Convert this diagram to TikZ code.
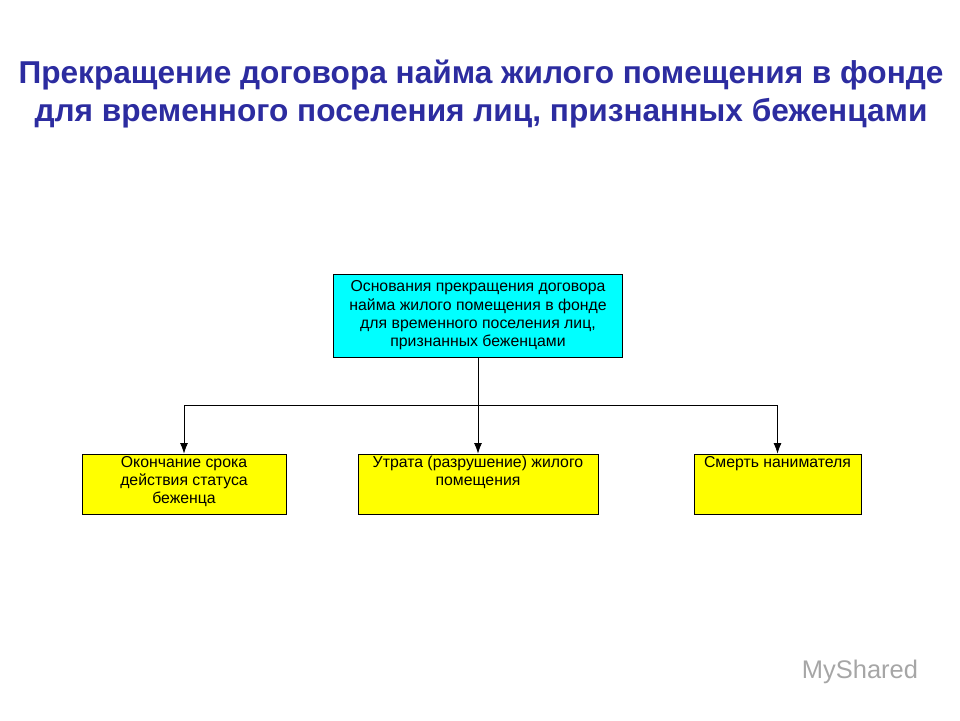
\documentclass[tikz,border=0pt]{standalone}
\usepackage{fontspec}
\setmainfont{Liberation Sans}
\usetikzlibrary{positioning,arrows.meta}
\definecolor{titleblue}{RGB}{44,44,160}
\definecolor{rootcyan}{RGB}{0,255,255}
\definecolor{leafyellow}{RGB}{255,255,0}
\begin{document}
\begin{tikzpicture}[
        x=0.02cm, y=-0.02cm,
        root/.style={rectangle, draw=black, fill=rootcyan, font=\fontsize{9}{10.4}\selectfont,
            minimum width=5.78cm, minimum height=1.66cm, align=center},
        leaf/.style={rectangle, draw=black, fill=leafyellow, font=\fontsize{9}{10.4}\selectfont,
            minimum height=1.2cm, inner sep=0pt},
        link/.style={-{Latex[length=6pt,width=4.5pt]}},
    ]

    \useasboundingbox (0,0) rectangle (960,720);

    % Title
    \node[font=\bfseries\fontsize{18}{21.5}\selectfont, text=titleblue, align=center] (title) at (481,94)
    {Прекращение договора найма жилого помещения в фонде\\для временного поселения лиц, признанных беженцами};

    % Boxes
    \node[root] (R) at (478,315.5) {Основания прекращения договора\\найма жилого помещения в фонде\\для временного поселения лиц,\\признанных беженцами};

    \node[leaf, minimum width=4.08cm] (L1) at (184,484)
    {\parbox[c][1.12cm][t]{3.9cm}{\centering Окончание срока\\действия статуса\\беженца}};
    \node[leaf, minimum width=4.8cm] (L2) at (478,484)
    {\parbox[c][1.12cm][t]{4.6cm}{\centering Утрата (разрушение) жилого\\помещения}};
    \node[leaf, minimum width=3.34cm] (L3) at (777.5,484)
    {\parbox[c][1.12cm][t]{3.3cm}{\centering Смерть нанимателя}};

    % Connectors
    \coordinate (B) at (478,405);
    \draw (R.south) -- (B);
    \draw[link] (B) -| (L1.north);
    \draw[link] (B) -- (L2.north);
    \draw[link] (B) -| (L3.north);

    % Watermark
    \node[text=gray!70, font=\fontsize{14.5}{16}\selectfont] (logo) at (860,672) {MyShared};
\end{tikzpicture}
\end{document}
